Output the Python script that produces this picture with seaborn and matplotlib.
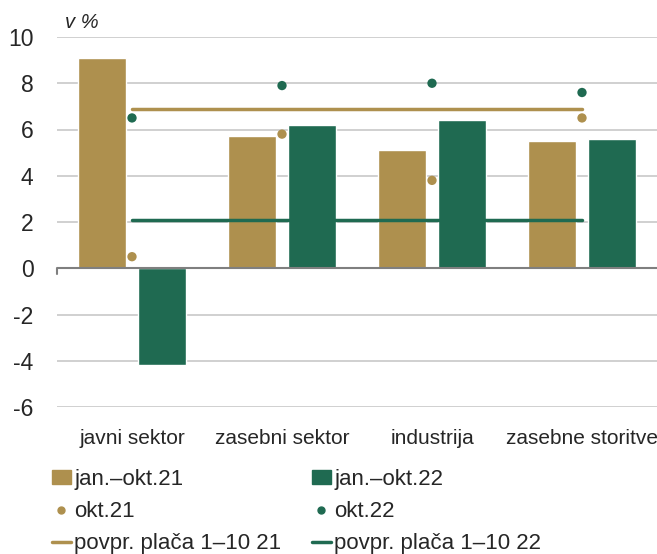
import matplotlib
matplotlib.use("Agg")
import matplotlib.pyplot as plt
from matplotlib.lines import Line2D
from matplotlib.patches import Patch
import numpy as np
import pandas as pd
import seaborn as sns

categories = ["javni sektor", "zasebni sektor", "industrija", "zasebne storitve"]
jan_okt_21 = [9.1, 5.7, 5.1, 5.5]
jan_okt_22 = [-4.2, 6.2, 6.4, 5.6]
okt_21 = [0.5, 5.8, 3.8, 6.5]
okt_22 = [6.5, 7.9, 8.0, 7.6]
avg_21 = 6.9
avg_22 = 2.1
yticks = [-6, -4, -2, 0, 2, 4, 6, 8, 10]

GOLD = "#AE904E"
GREEN = "#1F6A51"

sns.set_style("white")
plt.rcParams["font.family"] = ["Liberation Sans", "DejaVu Sans"]

df = pd.DataFrame({
    "cat": categories * 2,
    "val": jan_okt_21 + jan_okt_22,
    "serie": ["jan.–okt.21"] * 4 + ["jan.–okt.22"] * 4,
})

fig = plt.figure(figsize=(6.57, 5.54), dpi=100)
ax = fig.add_axes([57 / 657, 1 - 407 / 554, 600 / 657, 370 / 554])

sns.barplot(data=df, x="cat", y="val", hue="serie", palette=[GOLD, GREEN],
            width=0.8, gap=0.2, saturation=1, ax=ax, legend=False, zorder=3)

xs = np.arange(len(categories))
sns.scatterplot(x=xs, y=okt_21, color=GOLD, s=45, edgecolor="none", ax=ax, zorder=4)
sns.scatterplot(x=xs, y=okt_22, color=GREEN, s=45, edgecolor="none", ax=ax, zorder=4)
sns.lineplot(x=xs, y=[avg_21] * len(xs), color=GOLD, lw=2.5, ax=ax, zorder=4)
sns.lineplot(x=xs, y=[avg_22] * len(xs), color=GREEN, lw=2.5, ax=ax, zorder=4)

ax.set_xlim(-0.5, len(categories) - 0.5)
ax.set_ylim(-6, 10)
ax.set_yticks(yticks)
ax.set_yticklabels([str(t) for t in yticks])
ax.grid(axis="y", color="#C8C8C8", lw=1.2, zorder=0)
ax.axhline(0, color="#7F7F7F", lw=1.5, zorder=5)
ax.plot([-0.5, -0.5], [0, -0.25], color="#7F7F7F", lw=1.5, clip_on=False, zorder=5)
for s in ax.spines.values():
    s.set_visible(False)
ax.set_xlabel("")
ax.set_ylabel("")
ax.tick_params(axis="y", length=0, pad=17, labelsize=16.5)
ax.tick_params(axis="x", length=0, pad=16, labelsize=15)

fig.text(65 / 657, 1 - 22 / 554, "v %", fontsize=14.5, style="italic", va="center")

col1 = [Patch(color=GOLD),
        Line2D([], [], marker="o", ls="none", color=GOLD, markersize=5),
        Line2D([], [], color=GOLD, lw=2.5)]
col2 = [Patch(color=GREEN),
        Line2D([], [], marker="o", ls="none", color=GREEN, markersize=5),
        Line2D([], [], color=GREEN, lw=2.5)]
kw = dict(loc="upper left", frameon=False, fontsize=16, handlelength=0.85,
          handleheight=0.55, handletextpad=0.15, labelspacing=0.5, borderpad=0,
          borderaxespad=0)
leg1 = fig.legend(col1, ["jan.–okt.21", "okt.21", "povpr. plača 1–10 21"],
                  bbox_to_anchor=(52 / 657, 1 - 469 / 554), **kw)
leg2 = fig.legend(col2, ["jan.–okt.22", "okt.22", "povpr. plača 1–10 22"],
                  bbox_to_anchor=(312 / 657, 1 - 469 / 554), **kw)

fig.savefig("out.png", dpi=100)
